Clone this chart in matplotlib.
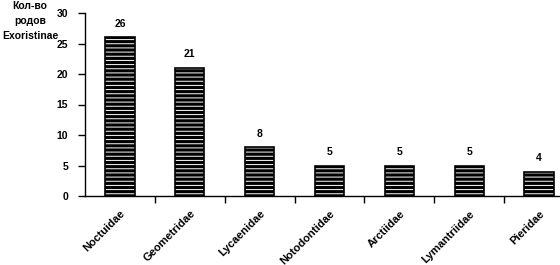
import matplotlib.pyplot as plt
import numpy as np

families = ["Noctuidae", "Geometridae", "Lycaenidae", "Notodontidae",
            "Arctiidae", "Lymantriidae", "Pieridae"]
genera = [26, 21, 8, 5, 5, 5, 4]

plt.rcParams['font.family'] = 'Liberation Sans'
plt.rcParams['font.weight'] = 'bold'
plt.rcParams['font.size'] = 7.5
plt.rcParams['hatch.linewidth'] = 0.7

fig = plt.figure(figsize=(5.6, 2.65), dpi=100)
ax = fig.add_axes([85 / 560, 1 - 196 / 265, 489 / 560, 183 / 265])

x = np.arange(len(families))
ax.bar(x, genera, width=0.42, color='black', edgecolor='white', hatch='----', linewidth=0)
ax.bar(x, genera, width=0.42, fill=False, edgecolor='black', linewidth=1.2)

for xi, v in zip(x, genera):
    ax.text(xi, v + 1.4, str(v), ha='center', va='bottom', fontweight='bold')

ax.set_xlim(-0.5, len(families) - 0.5)
ax.set_ylim(0, 30)
ax.set_yticks([0, 5, 10, 15, 20, 25, 30])
ax.tick_params(axis='y', length=5, width=1, pad=7)

ax.set_xticks(x)
ax.set_xticklabels(families, rotation=45, ha='right', rotation_mode='anchor', fontsize=8)
ax.tick_params(axis='x', which='major', length=0, pad=9)
ax.set_xticks(np.arange(0.5, len(families) - 0.5), minor=True)
ax.tick_params(axis='x', which='minor', length=5, width=1)

for s in ['top', 'right']:
    ax.spines[s].set_visible(False)
ax.spines['left'].set_linewidth(1)
ax.spines['bottom'].set_linewidth(1)

fig.text(30 / 560, 1 - 21 / 265, "Кол-во\nродов\nExoristinae",
         ha='center', va='center', linespacing=1.65, fontweight='bold')

fig.savefig('out.png', dpi=100)
